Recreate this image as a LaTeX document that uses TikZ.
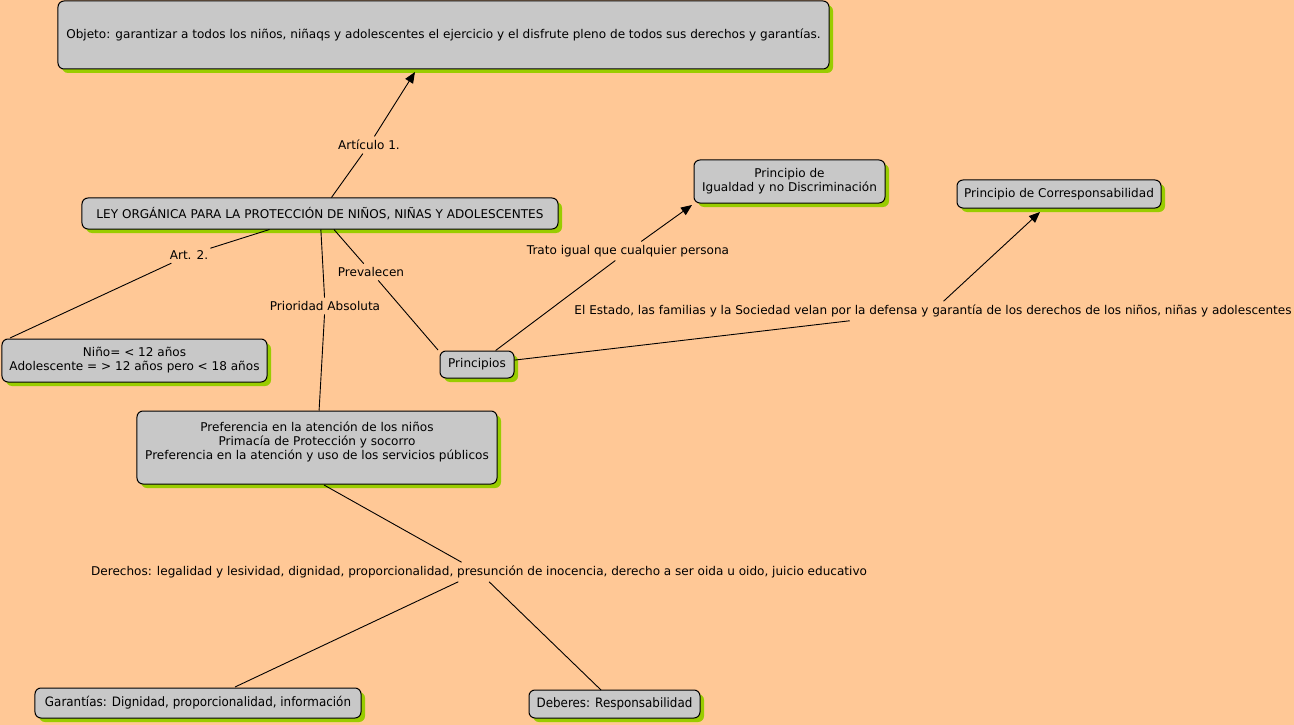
\documentclass[tikz,border=0pt]{standalone}
\usepackage{fontspec}
\setmainfont{DejaVu Sans}
\newfontfamily\narrowfont[FakeStretch=0.92]{DejaVu Sans}
\usetikzlibrary{shadows,arrows.meta}
\definecolor{bgpeach}{RGB}{255,200,150}
\definecolor{boxgray}{RGB}{200,200,200}
\definecolor{shgreen}{RGB}{153,204,0}
\tikzset{
  concept/.style={draw=black, line width=1bp, fill=boxgray, rounded corners=6bp,
    align=center, inner sep=2bp, font=\fontsize{12.1}{14}\selectfont,
    drop shadow={shadow xshift=4bp, shadow yshift=-4bp, fill=shgreen, opacity=1}},
  narrowconcept/.style={concept, font=\narrowfont\fontsize{13}{15}\selectfont},
  linklbl/.style={inner xsep=2bp, inner ysep=3.5bp, align=center,
    font=\fontsize{12.1}{14}\selectfont},
  conn/.style={draw=black, line width=0.9bp},
  arr/.style={conn, -{Triangle[length=11bp,width=9bp]}}
}
\begin{document}
\begin{tikzpicture}[x=1bp,y=-1bp]
\fill[bgpeach] (0,0) rectangle (1294,725);
\useasboundingbox (0,0) rectangle (1294,725);

% concepts
\node[concept, minimum width=771bp, minimum height=68bp] (obj) at (443.5,35)
  {Objeto: garantizar a todos los niños, niñaqs y adolescentes el ejercicio y el disfrute pleno de todos sus derechos y garantías.};
\node[concept, minimum width=476bp, minimum height=31bp] (ley) at (320,213.5)
  {LEY ORGÁNICA PARA LA PROTECCIÓN DE NIÑOS, NIÑAS Y ADOLESCENTES};
\node[concept, minimum width=191bp, minimum height=43bp] (igual) at (789.5,181.5)
  {Principio de\\Igualdad y no Discriminación};
\node[concept, minimum width=204bp, minimum height=28bp] (corresp) at (1059,194)
  {Principio de Corresponsabilidad};
\node[concept, minimum width=265bp, minimum height=43bp] (nino) at (134.5,360.5)
  {Niño= < 12 años\\Adolescente = > 12 años pero < 18 años};
\node[concept, minimum width=74bp, minimum height=27bp] (princ) at (477,364.5)
  {Principios};
\node[concept, minimum width=360bp, minimum height=73bp] (pref) at (317,447.5)
  {Preferencia en la atención de los niños\\Primacía de Protección y socorro\\Preferencia en la atención y uso de los servicios públicos\\\mbox{}};
\node[narrowconcept, minimum width=326bp, minimum height=30bp] (garant) at (198,703)
  {Garantías: Dignidad, proporcionalidad, información};
\node[narrowconcept, minimum width=171bp, minimum height=28bp] (deber) at (614.5,704)
  {Deberes: Responsabilidad};

% linking phrases
\node[linklbl] (art1) at (369,145) {Artículo 1.};
\node[linklbl] (art2) at (189,255) {Art. 2.};
\node[linklbl] (prev) at (371,272) {Prevalecen};
\node[linklbl] (prio) at (325,306) {Prioridad Absoluta};
\node[linklbl] (trato) at (628,251) {Trato igual que cualquier persona};
\node[linklbl] (estado) at (933,311) {El Estado, las familias y la Sociedad velan por la defensa y garantía de los derechos de los niños, niñas y adolescentes};
\node[linklbl] (der) at (479,572) {Derechos: legalidad y lesividad, dignidad, proporcionalidad, presunción de inocencia, derecho a ser oida u oido, juicio educativo};

% connector end points on concepts
\coordinate (objin) at (415,72);
\coordinate (ninoin) at (10,338);
\coordinate (princin) at (438,350);
\coordinate (igualin) at (692,205);
\coordinate (correspin) at (1040,212);
\coordinate (prefout) at (324,485);
\coordinate (garantin) at (235,687);
\coordinate (deberin) at (601,690);

% connectors
\draw[conn] (ley) -- (art1);
\draw[arr] (art1) -- (objin);
\draw[conn] (ley) -- (art2);
\draw[conn] (art2) -- (ninoin);
\draw[conn] (ley) -- (prev);
\draw[conn] (prev) -- (princin);
\draw[conn] (ley) -- (prio);
\draw[conn] (prio) -- (pref);
\draw[conn] (princ) -- (trato);
\draw[arr] (trato) -- (igualin);
\draw[conn] (princ) -- (estado);
\draw[arr] (estado) -- (correspin);
\draw[conn] (prefout) -- (der);
\draw[conn] (der) -- (garantin);
\draw[conn] (der) -- (deberin);
\end{tikzpicture}
\end{document}
